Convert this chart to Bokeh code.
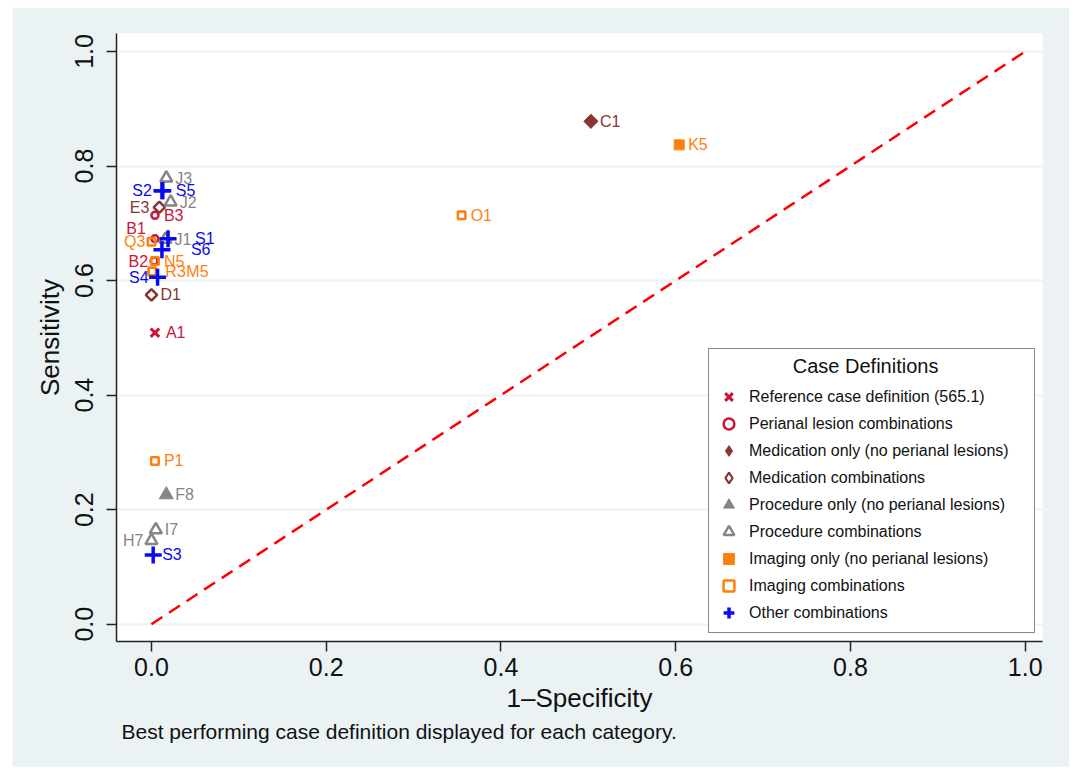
from bokeh.plotting import figure
from bokeh.models import (ColumnDataSource, Range1d, FixedTicker, PrintfTickFormatter,
                          Legend, LegendItem, Title)
from bokeh.embed import file_html
from bokeh.resources import INLINE
from bokeh.core.properties import value

FONT = "Liberation Sans"

# ---------------- data ----------------
categories = [
    "Reference case definition (565.1)",
    "Perianal lesion combinations",
    "Medication only (no perianal lesions)",
    "Medication combinations",
    "Procedure only (no perianal lesions)",
    "Procedure combinations",
    "Imaging only (no perianal lesions)",
    "Imaging combinations",
    "Other combinations",
]

ref_ids = ["A1"]
ref_fpr = [0.004]
ref_sens = [0.509]

per_ids = ["B3", "B1", "B2"]
per_fpr = [0.004, 0.004, 0.003]
per_sens = [0.714, 0.673, 0.634]

medo_ids = ["C1"]
medo_fpr = [0.503]
medo_sens = [0.878]

medc_ids = ["E3", "D1"]
medc_fpr = [0.009, 0.000]
medc_sens = [0.728, 0.575]

proo_ids = ["F8"]
proo_fpr = [0.017]
proo_sens = [0.226]

proc_ids = ["J3", "J2", "J1", "I7", "H7"]
proc_fpr = [0.017, 0.022, 0.016, 0.005, 0.000]
proc_sens = [0.779, 0.737, 0.672, 0.165, 0.146]

imgo_ids = ["K5"]
imgo_fpr = [0.604]
imgo_sens = [0.837]

imgc_ids = ["O1", "Q3", "N5", "R3", "M5", "P1"]
imgc_fpr = [0.355, 0.000, 0.004, 0.001, 0.001, 0.004]
imgc_sens = [0.714, 0.668, 0.634, 0.616, 0.616, 0.285]

oth_ids = ["S2", "S5", "S1", "S6", "S4", "S3"]
oth_fpr = [0.012, 0.013, 0.019, 0.012, 0.007, 0.002]
oth_sens = [0.757, 0.757, 0.673, 0.654, 0.606, 0.121]

chance_x = [0.0, 1.0]
chance_y = [0.0, 1.0]

ticks = [0.0, 0.2, 0.4, 0.6, 0.8, 1.0]

series = [
    (ref_ids, ref_fpr, ref_sens),
    (per_ids, per_fpr, per_sens),
    (medo_ids, medo_fpr, medo_sens),
    (medc_ids, medc_fpr, medc_sens),
    (proo_ids, proo_fpr, proo_sens),
    (proc_ids, proc_fpr, proc_sens),
    (imgo_ids, imgo_fpr, imgo_sens),
    (imgc_ids, imgc_fpr, imgc_sens),
    (oth_ids, oth_fpr, oth_sens),
]

# ---------------- styles ----------------
CRIMSON = "#c8153c"
MAROON = "#8b3434"
GRAY = "#858585"
ORANGE = "#ff7f0e"
BLUE = "#0a0aee"
BG = "#eaf2f3"
DIAG = 0.785398

styles = [
    dict(marker="x", color=CRIMSON, fill=False, size=12, lw=3, angle=0, legend_marker=None),
    dict(marker="circle", color=CRIMSON, fill=False, size=7, lw=2.5, angle=0, legend_marker=None),
    dict(marker="square", color=MAROON, fill=True, size=10, lw=1, angle=DIAG, legend_marker="diamond"),
    dict(marker="square", color=MAROON, fill=False, size=8, lw=2.5, angle=DIAG, legend_marker="diamond"),
    dict(marker="triangle", color=GRAY, fill=True, size=14, lw=1, angle=0, legend_marker=None),
    dict(marker="triangle", color=GRAY, fill=False, size=12, lw=2.5, angle=0, legend_marker=None),
    dict(marker="square", color=ORANGE, fill=True, size=10, lw=1, angle=0, legend_marker=None),
    dict(marker="square", color=ORANGE, fill=False, size=7.5, lw=2.5, angle=0, legend_marker=None),
    dict(marker="cross", color=BLUE, fill=False, size=17, lw=3.5, angle=0, legend_marker=None),
]

# label placement (pixel nudges); negative dx -> label on the left
label_nudge = {"A1": (11, 0), "B1": (-9, -10), "B2": (-6, 0), "E3": (-10, 0),
               "H7": (-8, 0), "Q3": (-6, 0), "S2": (-10, 0), "S4": (-9, 0),
               "S5": (13, 0), "S1": (27, 0), "S6": (29, 0), "R3": (13, 0), "M5": (34, 0)}
DEFAULT_NUDGE = (9, 0)

p = figure(width=1057, height=760,
           x_range=Range1d(-0.040, 1.0198), y_range=Range1d(-0.0302, 1.0314),
           output_backend="svg", toolbar_location=None,
           min_border_left=104, min_border_right=27, min_border_top=26, min_border_bottom=126)
p.margin = (7, 0, 0, 12)
p.background_fill_color = "white"
p.border_fill_color = BG
p.outline_line_color = None
p.xgrid.visible = False
p.ygrid.grid_line_color = BG
p.ygrid.grid_line_width = 2

for ax in (p.xaxis[0], p.yaxis[0]):
    ax.ticker = FixedTicker(ticks=ticks)
    ax.formatter = PrintfTickFormatter(format="%.1f")
    ax.minor_tick_line_color = None
    ax.major_tick_in = 0
    ax.major_tick_out = 10
    ax.major_tick_line_color = "#222222"
    ax.major_tick_line_width = 1.5
    ax.axis_line_color = "#222222"
    ax.axis_line_width = 1.5
    ax.major_label_text_font = FONT
    ax.major_label_text_font_size = "25px"
    ax.major_label_text_color = "#111111"
    ax.axis_label_text_font = FONT
    ax.axis_label_text_font_size = "26px"
    ax.axis_label_text_font_style = "normal"
    ax.axis_label_text_color = "#111111"

p.xaxis.axis_label = "1\u2013Specificity"
p.yaxis.axis_label = "Sensitivity"
p.yaxis.major_label_orientation = "vertical"
p.xaxis.major_label_standoff = 6
p.yaxis.major_label_standoff = 13
p.xaxis.axis_label_standoff = 4
p.yaxis.axis_label_standoff = 8

p.line(chance_x, chance_y, line_color="#ff0000", line_width=2.5, line_dash="13 8")

items = []
for cat, (ids, fx, sy), st in zip(categories, series, styles):
    src = ColumnDataSource(dict(x=fx, y=sy, lab=ids))
    r = p.scatter("x", "y", source=src, marker=st["marker"], size=st["size"],
                  angle=st["angle"],
                  line_color=st["color"], line_width=st["lw"],
                  fill_color=st["color"] if st["fill"] else None)
    leg_r = r
    if st["legend_marker"] is not None:
        # key-only renderer: same data, kept muted (invisible) in the plot,
        # its normal glyph supplies the diamond symbol in the legend
        leg_r = p.scatter("x", "y", source=src, marker=st["legend_marker"],
                          line_color=st["color"], line_width=st["lw"] * 0.9,
                          fill_color=st["color"] if st["fill"] else None,
                          muted_alpha=0.0)
        leg_r.muted = True
    items.append(LegendItem(label=cat, renderers=[leg_r]))
    for side in ("right", "left"):
        xs, ys, ts, dxs, dys = [], [], [], [], []
        for i, lab in enumerate(ids):
            dx, dy = label_nudge.get(lab, DEFAULT_NUDGE)
            if (dx >= 0) == (side == "right"):
                xs.append(fx[i]); ys.append(sy[i]); ts.append(lab); dxs.append(dx); dys.append(dy)
        if ts:
            lsrc = ColumnDataSource(dict(x=xs, y=ys, t=ts, dx=dxs, dy=dys))
            p.text("x", "y", text="t", source=lsrc, x_offset="dx", y_offset="dy",
                   text_align="left" if side == "right" else "right",
                   text_baseline="middle", text_color=st["color"],
                   text_font=value(FONT), text_font_size="16px")

legend = Legend(items=items, location=(592, 8),
                title="\u00a0" * 14 + "Case Definitions",
                title_text_font=FONT, title_text_font_size="20px",
                title_text_font_style="normal", title_text_color="#111111",
                title_standoff=5,
                label_text_font=FONT, label_text_font_size="16px", label_text_color="#111111",
                glyph_width=27, glyph_height=27, label_height=27, spacing=0,
                padding=6, label_standoff=7, label_width=279,
                border_line_color="#111111", border_line_width=1.5,
                background_fill_color="white", background_fill_alpha=1.0)
p.add_layout(legend, "center")

note = Title(text="Best performing case definition displayed for each category.",
             align="left", offset=5, standoff=4,
             text_font=FONT, text_font_size="21px", text_font_style="normal",
             text_color="#111111")
p.add_layout(note, "below")

open("out.html", "w").write(file_html(p, INLINE))
